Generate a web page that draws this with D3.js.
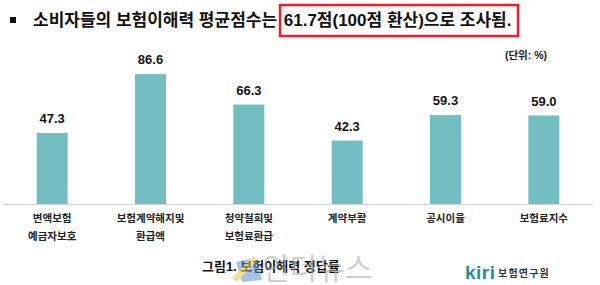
<!DOCTYPE html>
<html>
<head>
<meta charset="utf-8">
<script src="https://cdn.jsdelivr.net/npm/d3@7"></script>
<style>
  body { margin: 0; background: #fff; }
  svg { display: block; font-family: "Liberation Sans", "Noto Sans CJK KR", sans-serif; }
</style>
</head>
<body>
<svg id="chart" width="600" height="285"></svg>
<script>
(function () {
    'use strict';

    const categories = ["변액보험 예금자보호", "보험계약해지및 환급액", "청약철회및 보험료환급", "계약부활", "공시이율", "보험료지수"];
    const labelLines = [["변액보험", "예금자보호"], ["보험계약해지및", "환급액"], ["청약철회및", "보험료환급"], ["계약부활"], ["공시이율"], ["보험료지수"]];
    const values = [47.3, 86.6, 66.3, 42.3, 59.3, 59.0];

    const format = d3.format(".1f");
    const svg = d3.select("#chart");

    const x = d3.scaleBand()
        .domain(categories)
        .range([3, 593]);
    const barW = x.bandwidth() * 0.315;

    const y = d3.scaleLinear()
        .domain([0, 100])
        .range([204, 54]);

    // title
    svg.append("rect")
        .attr("x", 10).attr("y", 17)
        .attr("width", 6).attr("height", 6)
        .attr("fill", "#111");

    const title = svg.append("text")
        .attr("x", 33).attr("y", 26)
        .attr("font-size", 17)
        .attr("font-weight", "bold")
        .attr("fill", "#111");
    title.append("tspan").text("소비자들의 보험이해력 평균점수는 ");
    title.append("tspan").attr("dx", 2).text("61.7점(100점 환산)으로 조사됨.");

    svg.append("rect")
        .attr("x", 280).attr("y", 5)
        .attr("width", 238).attr("height", 31)
        .attr("fill", "none")
        .attr("stroke", "#e8202a")
        .attr("stroke-width", 2.5);

    svg.append("text")
        .attr("x", 547).attr("y", 59)
        .attr("text-anchor", "end")
        .attr("font-size", 10.5)
        .attr("font-weight", "bold")
        .attr("fill", "#222")
        .text("(단위: %)");

    // bars
    svg.append("g")
        .selectAll("rect")
        .data(values)
        .join("rect")
        .attr("x", (d, i) => x(categories[i]) + x.bandwidth() / 2 - barW / 2)
        .attr("y", d => y(d))
        .attr("width", barW)
        .attr("height", d => y(0) - y(d))
        .attr("fill", "#72bec3");

    svg.append("line")
        .attr("x1", 3).attr("x2", 593)
        .attr("y1", y(0) + 0.5).attr("y2", y(0) + 0.5)
        .attr("stroke", "#d4d4d4")
        .attr("stroke-width", 1);

    svg.append("g")
        .attr("text-anchor", "middle")
        .attr("font-size", 13)
        .attr("font-weight", "bold")
        .attr("fill", "#111")
        .selectAll("text")
        .data(values)
        .join("text")
        .attr("x", (d, i) => x(categories[i]) + x.bandwidth() / 2)
        .attr("y", d => y(d) - 10)
        .text(d => format(d));

    // category labels
    const cat = svg.append("g")
        .attr("text-anchor", "middle")
        .attr("font-size", 10.5)
        .attr("font-weight", "bold")
        .attr("fill", "#222")
        .selectAll("text")
        .data(labelLines)
        .join("text")
        .attr("x", (d, i) => x(categories[i]) + x.bandwidth() / 2)
        .attr("y", 222);
    cat.selectAll("tspan")
        .data(d => d)
        .join("tspan")
        .attr("x", function () { return this.parentNode.getAttribute("x"); })
        .attr("dy", (d, i) => i === 0 ? 0 : 17.5)
        .text(d => d);

    // caption
    svg.append("text")
        .attr("x", 202).attr("y", 271)
        .attr("font-size", 13)
        .attr("font-weight", "bold")
        .attr("fill", "#111")
        .text("그림1. 보험이해력 정답률");

    // watermark (drawn over the caption, as in the source image)
    const wm = svg.append("g").attr("opacity", 0.55);
    wm.append("path")
        .attr("d", "M236,262 L256,258 L262,280 L242,282 Z")
        .attr("fill", "#5b8fd6");
    wm.append("path")
        .attr("d", "M232,278 L254,256 L258,260 L237,282 Z")
        .attr("fill", "#f2c63a");
    wm.append("text")
        .attr("x", 262).attr("y", 279)
        .attr("font-size", 30)
        .attr("fill", "#a8a8a8")
        .text("인더뉴스");

    // kiri logo
    svg.append("text")
        .attr("x", 465).attr("y", 279)
        .attr("font-size", 19)
        .attr("font-weight", "bold")
        .attr("fill", "#1f8f91")
        .attr("letter-spacing", 0.5)
        .text("kiri");
    svg.append("text")
        .attr("x", 498).attr("y", 277)
        .attr("font-size", 10)
        .attr("font-weight", "bold")
        .attr("fill", "#333")
        .attr("letter-spacing", 1.2)
        .text("보험연구원");
}());
</script>
</body>
</html>
